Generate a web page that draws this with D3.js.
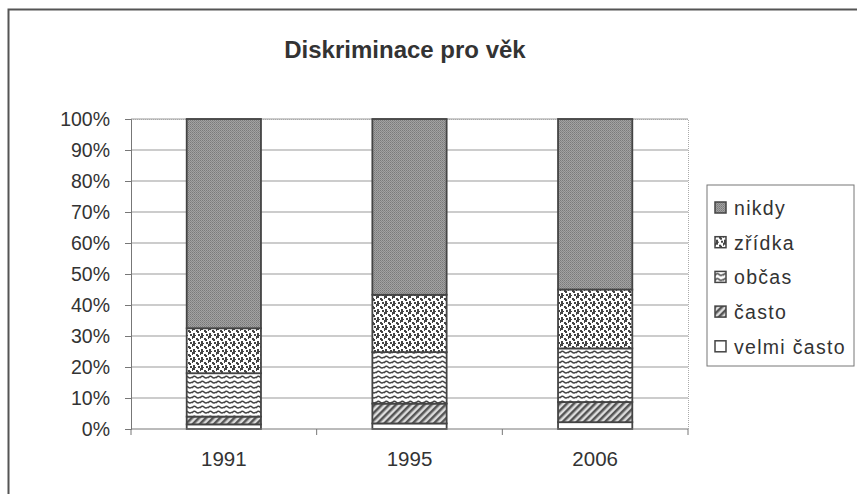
<!DOCTYPE html>
<html>
<head>
<meta charset="utf-8">
<script src="https://cdn.jsdelivr.net/npm/d3@7"></script>
<style>
body{margin:0;background:#fff;}
text{font-family:Arial,"Liberation Sans",sans-serif;fill:#333;}
</style>
</head>
<body>
<script>
// data
var years=['1991','1995','2006'];
var keys=['velmi často','často','občas','zřídka','nikdy'];
var velmiCasto=[1.5,1.8,2.2];
var casto=[2.5,6.4,6.5];
var obcas=[14,16.6,17.3];
var zridka=[14.5,18.5,19];
var nikdy=[67.5,56.7,55];
var yTicks=[0,10,20,30,40,50,60,70,80,90,100];
// layout
var wid=857,hgh=494;
var pl=131,pr=688,pt=119,pb=429;
var svg=d3.select('body').append('svg').attr('width',wid).attr('height',hgh);
var defs=svg.append('defs');
// patterns
function pat(id,w,h){return defs.append('pattern').attr('id',id).attr('patternUnits','userSpaceOnUse').attr('width',w).attr('height',h);}
var p1=pat('pNikdy',2,2);
p1.append('rect').attr('width',2).attr('height',2).attr('fill','#a2a2a2');
p1.append('rect').attr('width',1).attr('height',1).attr('fill','#7a7a7a');
p1.append('rect').attr('x',1).attr('y',1).attr('width',1).attr('height',1).attr('fill','#888');
var p2=pat('pZridka',8,8);
p2.append('rect').attr('width',8).attr('height',8).attr('fill','#fff');
p2.append('path').attr('d','M0,0h3v2h-2v1h-1zM4,2h2v1h1v2h-2v-1h-1zM1,5h2v2h1v1h-3zM6,6h2v2h-2z').attr('fill','#444');
var p3=pat('pObcas',8,5);
p3.append('rect').attr('width',8).attr('height',5).attr('fill','#fff');
p3.append('path').attr('d','M0,3 Q2,0 4,2 T8,2').attr('fill','none').attr('stroke','#444').attr('stroke-width',1.5);
var p4=pat('pCasto',5,5).attr('patternTransform','rotate(45)');
p4.append('rect').attr('width',5).attr('height',5).attr('fill','#ddd');
p4.append('rect').attr('width',2.5).attr('height',5).attr('fill','#555');
var fills={'velmi často':'#fff','často':'url(#pCasto)','občas':'url(#pObcas)','zřídka':'url(#pZridka)','nikdy':'url(#pNikdy)'};
// outer frame
svg.append('rect').attr('x',8.5).attr('y',9.5).attr('width',wid+10).attr('height',hgh+10)
  .attr('fill','none').attr('stroke','#555').attr('stroke-width',2);
// title
svg.append('text').attr('x',405).attr('y',58).attr('text-anchor','middle')
  .style('font-size','24px').style('font-weight','bold').text('Diskriminace pro věk');
// scales
var x=d3.scaleBand().domain(years).range([pl,pr]).paddingInner(0.6).paddingOuter(0.3);
var y=d3.scaleLinear().domain([0,100]).range([pb,pt]);
// grid
svg.append('g').selectAll('line').data(yTicks.slice(1)).enter().append('line')
  .attr('x1',pl).attr('x2',pr).attr('y1',function(d){return y(d);}).attr('y2',function(d){return y(d);})
  .attr('stroke','#999').attr('stroke-width',1);
// plot area border (dotted top/right)
svg.append('path').attr('d','M'+pl+','+(pt+0.5)+'H'+(pr+0.5)+'V'+pb)
  .attr('fill','none').attr('stroke','#aaa').attr('stroke-dasharray','1,1');
// stacked data
var table=years.map(function(yr,i){return {year:yr,'velmi často':velmiCasto[i],'často':casto[i],'občas':obcas[i],'zřídka':zridka[i],'nikdy':nikdy[i]};});
var series=d3.stack().keys(keys)(table);
svg.append('g').selectAll('g').data(series).enter().append('g')
  .attr('fill',function(d){return fills[d.key];})
  .selectAll('rect').data(function(d){return d;}).enter().append('rect')
  .attr('x',function(d){return x(d.data.year);}).attr('width',x.bandwidth())
  .attr('y',function(d){return y(d[1]);}).attr('height',function(d){return y(d[0])-y(d[1]);})
  .attr('stroke','#444').attr('stroke-width',1.8);
// axes
var ya=svg.append('g').attr('transform','translate('+pl+',0)')
  .call(d3.axisLeft(y).tickValues(yTicks).tickSize(6).tickFormat(function(d){return d+'%';}));
ya.select('.domain').attr('stroke','#777');
ya.selectAll('line').attr('stroke','#777');
ya.selectAll('text').style('font-size','19.5px').attr('dx','-12').attr('fill','#333');
var xa=svg.append('g').attr('transform','translate(0,'+pb+')')
  .call(d3.axisBottom(x).tickSize(0).tickPadding(22));
xa.select('.domain').attr('stroke','#777').attr('d','M'+pl+',0H'+pr);
xa.selectAll('text').style('font-size','20.5px').attr('fill','#333');
// category separator ticks
xa.selectAll('line.sep').data(d3.range(years.length+1)).enter().append('line').attr('class','sep')
  .attr('x1',function(i){return pl+i*(pr-pl)/years.length;}).attr('x2',function(i){return pl+i*(pr-pl)/years.length;})
  .attr('y1',0).attr('y2',6).attr('stroke','#777');
// legend
var lg=svg.append('g').attr('transform','translate(707,185)');
lg.append('rect').attr('width',147).attr('height',181).attr('fill','#fff').attr('stroke','#777');
var lkeys=keys.slice().reverse();
var li=lg.selectAll('g.item').data(lkeys).enter().append('g').attr('class','item')
  .attr('transform',function(d,i){return 'translate(8,'+(23+i*34.7)+')';});
li.append('rect').attr('x',0).attr('y',-6).attr('width',11).attr('height',11)
  .attr('fill',function(d){return fills[d];}).attr('stroke','#444').attr('stroke-width',1.5);
li.append('text').attr('x',19).attr('y',7).style('font-size','19.5px').style('letter-spacing','1.3px').text(function(d){return d;});
</script>
</body>
</html>
